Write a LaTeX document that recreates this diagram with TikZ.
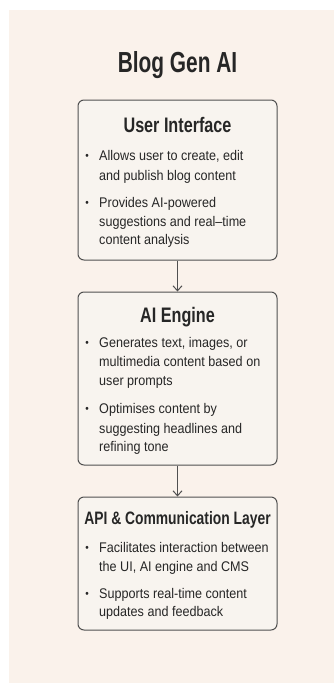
\documentclass[tikz,border=0pt]{standalone}
\usepackage{fontspec}
\setmainfont{Liberation Sans}
\newfontfamily\titlefont[FakeStretch=0.72]{Liberation Sans}
\newfontfamily\headfont[FakeStretch=0.77]{Liberation Sans}
\newfontfamily\bodyfont[FakeStretch=0.9]{Liberation Sans}
\usetikzlibrary{arrows.meta}

\definecolor{pagebg}{HTML}{FAF2EB}
\definecolor{boxbg}{HTML}{F8F4EF}
\definecolor{edgegray}{HTML}{505050}
\definecolor{ink}{HTML}{262626}

\tikzset{
    layer/.style={draw=edgegray, fill=boxbg, line width=1pt, rounded corners=6pt,
        minimum width=199pt, inner sep=0pt},
    head/.style={font=\headfont\bfseries\fontsize{21}{25}\selectfont, text=ink,
        anchor=base, inner sep=0pt},
    item/.style={font=\bodyfont\fontsize{14}{17}\selectfont, text=ink,
        anchor=base west, inner sep=0pt},
    dot/.style={font=\bodyfont\fontsize{11}{13}\selectfont, text=ink,
        anchor=base, inner sep=0pt},
    flow/.style={-{Straight Barb[length=5pt,width=9pt]}, draw=edgegray, line width=1pt}
}

\begin{document}
\begin{tikzpicture}[x=1pt,y=-1pt]
    \useasboundingbox (0,0) rectangle (334,683);
    \fill[white] (0,0) rectangle (334,683);
    \fill[pagebg] (9,10) rectangle (334,683);

    \node[font=\titlefont\bfseries\fontsize{29}{34}\selectfont, text=ink, anchor=base, inner sep=0pt] (title) at (177.5,72) {Blog Gen AI};

    % boxes
    \node[layer, minimum height=160pt] (ui) at (177.5,180) {};
    \node[layer, minimum height=173pt] (ai) at (177.5,378.5) {};
    \node[layer, minimum height=133pt] (api) at (177.5,563.5) {};

    \draw[flow] (ui.south) -- (ai.north);
    \draw[flow] (ai.south) -- (api.north);

    % user interface
    \node[head] (uihead) at (177.5,132) {User Interface};
    \node[dot] (uidot1) at (87,159) {•};
    \node[item] (ui1a) at (99,160) {Allows user to create, edit};
    \node[item] (ui1b) at (99,180) {and publish blog content};
    \node[dot] (uidot2) at (87,206) {•};
    \node[item] (ui2a) at (99,207) {Provides AI-powered};
    \node[item] (ui2b) at (99,226.5) {suggestions and real–time};
    \node[item] (ui2c) at (99,244.5) {content analysis};

    % ai engine
    \node[head] (aihead) at (177.5,322) {AI Engine};
    \node[dot] (aidot1) at (87,346) {•};
    \node[item] (ai1a) at (99,347) {Generates text, images, or};
    \node[item] (ai1b) at (99,366.5) {multimedia content based on};
    \node[item] (ai1c) at (99,385) {user prompts};
    \node[dot] (aidot2) at (87,412) {•};
    \node[item] (ai2a) at (99,413) {Optimises content by};
    \node[item] (ai2b) at (99,433) {suggesting headlines and};
    \node[item] (ai2c) at (99,451.5) {refining tone};

    % api layer
    \node[head, font=\headfont\bfseries\fontsize{18}{22}\selectfont] (apihead) at (177.5,524) {API \& Communication Layer};
    \node[dot] (apidot1) at (87,551) {•};
    \node[item] (api1a) at (99,552) {Facilitates interaction between};
    \node[item] (api1b) at (99,571.5) {the UI, AI engine and CMS};
    \node[dot] (apidot2) at (87,597) {•};
    \node[item] (api2a) at (99,598) {Supports real-time content};
    \node[item] (api2b) at (99,616.5) {updates and feedback};
\end{tikzpicture}
\end{document}
